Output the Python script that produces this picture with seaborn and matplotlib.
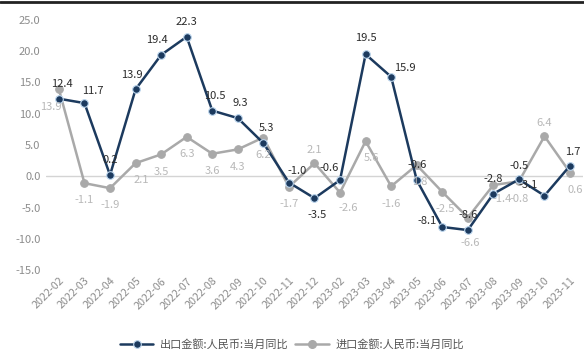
import matplotlib
matplotlib.use("Agg")
import matplotlib.pyplot as plt
from matplotlib.lines import Line2D
import seaborn as sns
import pandas as pd

months = ["2022-02", "2022-03", "2022-04", "2022-05", "2022-06", "2022-07",
          "2022-08", "2022-09", "2022-10", "2022-11", "2022-12", "2023-02",
          "2023-03", "2023-04", "2023-05", "2023-06", "2023-07", "2023-08",
          "2023-09", "2023-10", "2023-11"]
export_yoy = [12.4, 11.7, 0.2, 13.9, 19.4, 22.3, 10.5, 9.3, 5.3, -1.0, -3.5, -0.6,
              19.5, 15.9, -0.6, -8.1, -8.6, -2.8, -0.5, -3.1, 1.7]
import_yoy = [13.9, -1.1, -1.9, 2.1, 3.5, 6.3, 3.6, 4.3, 6.2, -1.7, 2.1, -2.6,
              5.6, -1.6, 1.8, -2.5, -6.6, -1.4, -0.8, 6.4, 0.6]
series_names = ["出口金额:人民币:当月同比", "进口金额:人民币:当月同比"]

# label placement (dx, dy in points) for each month
export_offsets = [(2, 7), (6, 5), (0, 7), (-3, 7), (-3, 7), (0, 7), (2, 7), (2, 7),
                  (2, 7), (6, 5), (2, -16), (-8, 5), (0, 8), (10, 3), (0, 7),
                  (-11, 1), (0, 7), (0, 7), (0, 6), (-12, 4), (2, 6)]
import_offsets = [(-6, -16), (0, -16), (0, -16), (4, -16), (0, -16), (0, -16),
                  (0, -16), (0, -16), (0, -16), (0, -16), (0, 6), (6, -15),
                  (4, -16), (0, -16), (2, -16), (2, -16), (2, -22), (6, -14),
                  (0, -16), (0, 6), (4, -16)]

sns.set_theme(style="white")
plt.rcParams["font.family"] = ["Noto Sans CJK SC", "DejaVu Sans"]

dark = "#1c3a5e"
grey = "#a9a9a9"

pos = list(range(len(months)))
df = pd.DataFrame({
    "pos": pos * 2,
    "value": export_yoy + import_yoy,
    "series": [series_names[0]] * len(months) + [series_names[1]] * len(months),
})

fig = plt.figure(figsize=(5.84, 3.49), dpi=100)
ax = fig.add_axes([0.079, 0.226, 0.919, 0.717])

# import line first so the export line sits on top
sns.lineplot(data=df[df.series == series_names[1]], x="pos", y="value", ax=ax,
             color=grey, linewidth=1.8, marker="o", markersize=5.5,
             markeredgecolor=grey, legend=False, zorder=3)
sns.lineplot(data=df[df.series == series_names[0]], x="pos", y="value", ax=ax,
             color=dark, linewidth=1.8, marker="o", markersize=5.5,
             markeredgecolor="#bcd6ee", markeredgewidth=0.8, legend=False, zorder=4)

for x, v, (dx, dy) in zip(pos, export_yoy, export_offsets):
    ax.annotate(f"{v:.1f}", (x, v), xytext=(dx, dy), textcoords="offset points",
                ha="center", va="bottom", fontsize=8, color="#2b2b2b", zorder=5)
for x, v, (dx, dy) in zip(pos, import_yoy, import_offsets):
    ax.annotate(f"{v:.1f}", (x, v), xytext=(dx, dy), textcoords="offset points",
                ha="center", va="bottom", fontsize=8, color="#b8b8b8", zorder=5)

ax.axhline(0, color="#d4d4d4", linewidth=1.0, zorder=1)

ax.set_xlim(-0.5, len(months) - 0.5)
ax.set_ylim(-15, 25)
yt = [25, 20, 15, 10, 5, 0, -5, -10, -15]
ax.set_yticks(yt)
ax.set_yticklabels([f"{t:.1f}" for t in yt], fontsize=8, color="#8c8c8c")
ax.set_xticks(pos)
ax.set_xticklabels(months, rotation=45, ha="right", rotation_mode="anchor",
                   fontsize=7.8, color="#8c8c8c")
ax.tick_params(axis="both", length=0, pad=4)
ax.set_xlabel("")
ax.set_ylabel("")
for s in ax.spines.values():
    s.set_visible(False)

handles = [
    Line2D([], [], color=dark, linewidth=1.8, marker="o", markersize=5.5,
           markeredgecolor="#bcd6ee", markeredgewidth=0.8),
    Line2D([], [], color=grey, linewidth=1.8, marker="o", markersize=5.5),
]
fig.legend(handles, series_names, loc="lower center", bbox_to_anchor=(0.5, -0.03),
           ncol=2, frameon=False, fontsize=8, labelcolor="#555555",
           handlelength=3.0, columnspacing=0.6, handletextpad=0.6)

# dark rule along the top edge
fig.add_artist(Line2D([0, 1], [0.994, 0.994], transform=fig.transFigure,
                      color="#222222", linewidth=2.0))

fig.savefig("out.png", dpi=100)
